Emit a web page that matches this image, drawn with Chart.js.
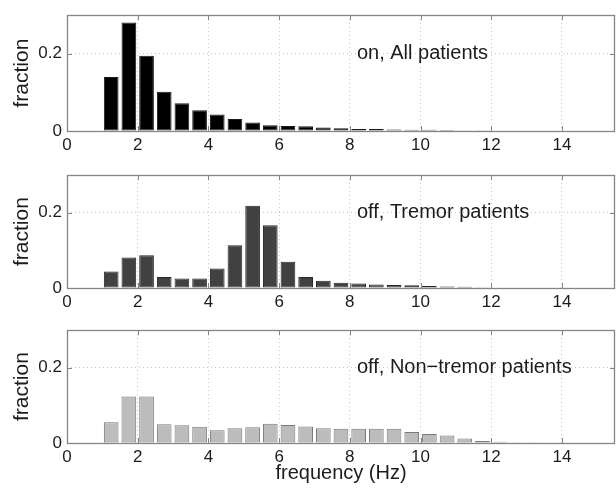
<!DOCTYPE html>
<html>
<head>
<meta charset="utf-8">
<script src="https://cdn.jsdelivr.net/npm/chart.js@4.4.1/dist/chart.umd.min.js"></script>
<style>
  html, body { margin: 0; padding: 0; background: #ffffff; overflow: hidden; width: 616px; height: 492px; }
  canvas { position: absolute; left: 0; display: block; }
</style>
</head>
<body>
<canvas id="c1" width="616" height="160" style="top:0px"></canvas>
<canvas id="c2" width="616" height="155" style="top:160px"></canvas>
<canvas id="c3" width="616" height="177" style="top:315px"></canvas>
<script>
// ---------- data ----------
const binCenters = [1.25, 1.75, 2.25, 2.75, 3.25, 3.75, 4.25, 4.75, 5.25, 5.75,
                    6.25, 6.75, 7.25, 7.75, 8.25, 8.75, 9.25, 9.75, 10.25, 10.75,
                    11.25, 11.75, 12.25, 12.75, 13.25, 13.75, 14.25, 14.75, 15.25];

const onAllPatients = [0.140, 0.281, 0.195, 0.102, 0.072, 0.054, 0.043, 0.031, 0.022, 0.015,
                       0.013, 0.012, 0.009, 0.007, 0.005, 0.005, 0.004, 0.0035, 0.003, 0.0025,
                       0.002, 0.002, 0.001, 0, 0, 0, 0, 0, 0];

const offTremorPatients = [0.044, 0.081, 0.087, 0.029, 0.025, 0.025, 0.052, 0.114, 0.219, 0.167,
                           0.070, 0.029, 0.019, 0.014, 0.012, 0.009, 0.008, 0.007, 0.005, 0.004,
                           0.003, 0.002, 0.0015, 0.001, 0.001, 0, 0, 0, 0];

const offNonTremorPatients = [0.055, 0.124, 0.124, 0.050, 0.047, 0.043, 0.034, 0.039, 0.042, 0.051,
                              0.048, 0.044, 0.039, 0.038, 0.038, 0.038, 0.038, 0.029, 0.024, 0.020,
                              0.012, 0.005, 0.003, 0.002, 0.002, 0.0015, 0.001, 0.001, 0.001];

const xTickValues = [0, 2, 4, 6, 8, 10, 12, 14];
const yTickValues = [0, 0.2];
const xRange = [0, 15.5];
const yRange = [0, 0.3];
const panelTitles = ['on, All patients', 'off, Tremor patients', 'off, Non\u2212tremor patients'];
const yAxisLabel = 'fraction';
const xAxisLabel = 'frequency (Hz)';
const titleAnchor = [8.2, 0.2];

// ---------- styling ----------
const FONT = '"Liberation Sans", Arial, Helvetica, sans-serif';
const TEXT = '#1c1c1c';
const FRAME = '#858585';

const framePlugin = {
  id: 'matlabFrame',
  afterDatasetsDraw(chart, args, opts) {
    const { ctx, chartArea: a, scales: { x, y } } = chart;
    ctx.save();
    ctx.strokeStyle = FRAME;
    ctx.lineWidth = 1;
    ctx.beginPath();
    const tl = 5;
    x.ticks.forEach(t => {
      const px = Math.round(x.getPixelForValue(t.value)) + 0.5;
      ctx.moveTo(px, a.bottom); ctx.lineTo(px, a.bottom - tl);
      ctx.moveTo(px, a.top); ctx.lineTo(px, a.top + tl);
    });
    y.ticks.forEach(t => {
      const py = Math.round(y.getPixelForValue(t.value)) + 0.5;
      ctx.moveTo(a.left, py); ctx.lineTo(a.left + tl, py);
      ctx.moveTo(a.right, py); ctx.lineTo(a.right - tl, py);
    });
    ctx.stroke();
    ctx.lineWidth = 1.3;
    ctx.strokeRect(Math.round(a.left) + 0.5, Math.round(a.top) + 0.5,
                   Math.round(a.right - a.left) - 1, Math.round(a.bottom - a.top));
    ctx.fillStyle = TEXT;
    ctx.font = '20px ' + FONT;
    ctx.textAlign = 'left';
    ctx.textBaseline = 'middle';
    ctx.fillText(opts.text, x.getPixelForValue(titleAnchor[0]), y.getPixelForValue(titleAnchor[1]));
    ctx.restore();
  }
};

function makePanel(id, values, fill, edge, title, padTop, xAxisHeight, showXLabel) {
  const data = binCenters.map((c, i) => ({ x: c, y: values[i] }));
  return new Chart(document.getElementById(id), {
    type: 'bar',
    data: {
      datasets: [{
        data: data,
        backgroundColor: fill,
        borderColor: edge,
        borderWidth: 1,
        borderSkipped: false,
        categoryPercentage: 1.0,
        barPercentage: 0.83
      }]
    },
    options: {
      responsive: false,
      animation: false,
      events: [],
      layout: { padding: { top: padTop, right: 1, left: 0, bottom: 0 } },
      plugins: {
        legend: { display: false },
        tooltip: { enabled: false },
        matlabFrame: { text: title }
      },
      scales: {
        x: {
          type: 'linear',
          min: xRange[0], max: xRange[1],
          offset: false,
          afterBuildTicks: s => { s.ticks = xTickValues.map(v => ({ value: v })); },
          afterFit: s => { s.height = xAxisHeight; },
          ticks: { color: TEXT, font: { family: FONT, size: 17 }, padding: 4, autoSkip: false, maxRotation: 0 },
          grid: { display: true, offset: false, drawTicks: false, color: '#c4c4c4', lineWidth: 1 },
          border: { display: false, dash: [1, 3] },
          title: {
            display: showXLabel, text: xAxisLabel, color: TEXT,
            font: { family: FONT, size: 20 }, padding: { top: 0, bottom: 7 }
          }
        },
        y: {
          type: 'linear',
          min: yRange[0], max: yRange[1],
          afterBuildTicks: s => { s.ticks = yTickValues.map(v => ({ value: v })); },
          afterFit: s => { s.width = 67; },
          ticks: { color: TEXT, font: { family: FONT, size: 17 }, padding: 5,
                   callback: v => String(v) },
          grid: { display: true, drawTicks: false, color: '#c4c4c4', lineWidth: 1 },
          border: { display: false, dash: [1, 3] },
          title: {
            display: true, text: yAxisLabel, color: TEXT,
            font: { family: FONT, size: 21 }, padding: { top: 10, bottom: 0 }
          }
        }
      }
    },
    plugins: [framePlugin]
  });
}

makePanel('c1', onAllPatients, '#000000', '#1a1a1a', panelTitles[0], 13, 29, false);
makePanel('c2', offTremorPatients, '#414141', '#262626', panelTitles[1], 9, 27, false);
makePanel('c3', offNonTremorPatients, '#bcbcbc', '#7a7a7a', panelTitles[2], 9, 49, true);
</script>
</body>
</html>
